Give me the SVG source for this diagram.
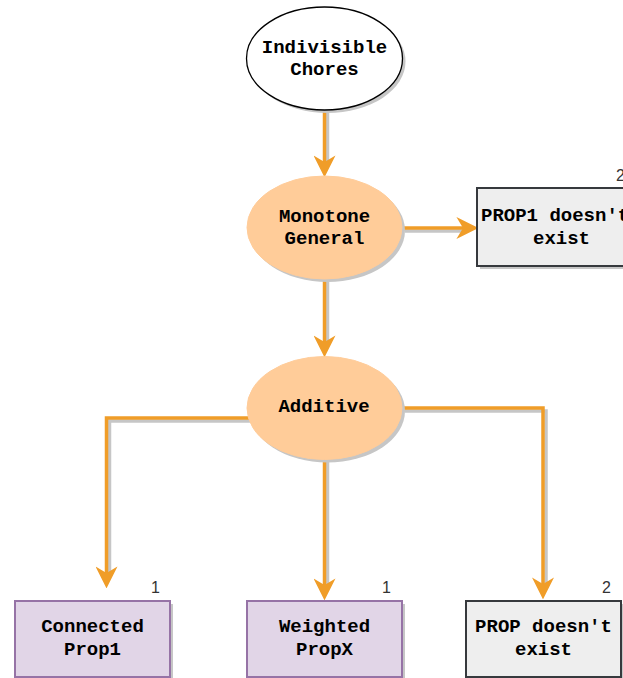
<svg xmlns="http://www.w3.org/2000/svg" width="623" height="678" viewBox="0 0 623 678">
<style>
.t{font-family:"Liberation Mono","Courier New",monospace;font-weight:bold;font-size:19px;fill:#000;text-anchor:middle}
.n{font-family:"Liberation Sans",Arial,sans-serif;font-size:16px;fill:#333}
.sh{fill:#c6c6c6;stroke:none}
.ov{fill:#FFCC99;stroke:#FFCC99;stroke-width:1}
.pu{fill:#E1D5E7;stroke:#9673A6;stroke-width:2}
.gr{fill:#EEEEEE;stroke:#36393D;stroke-width:2}
.c{fill:none;stroke:#F09D28;stroke-width:3.5;marker-end:url(#ah)}
.cs{fill:none;stroke:#c6c6c6;stroke-width:3.5}
</style>
<defs>
<marker id="ah" markerUnits="userSpaceOnUse" markerWidth="22" markerHeight="22" viewBox="0 0 20 20" refX="6" refY="10" orient="auto">
<path d="M0,0 L20,10 L0,20 L6,10 Z" fill="#F09D28"/>
</marker>
</defs>
<rect width="623" height="678" fill="#fff"/>
<g id="connectors">
<path class="cs" d="M327.5,113 V161"/>
<path class="cs" d="M405,231 H462"/>
<path class="cs" d="M327.5,282 V341"/>
<path class="cs" d="M254,421 H109.5 V572"/>
<path class="cs" d="M327.5,462 V584"/>
<path class="cs" d="M405,411 H546 V583"/>
<path class="c" d="M324.5,110 V162"/>
<path class="c" d="M402,228 H463"/>
<path class="c" d="M324.5,279 V342"/>
<path class="c" d="M251,418 H106.5 V573"/>
<path class="c" d="M324.5,459 V585"/>
<path class="c" d="M402,408 H543 V584"/>
</g>
<g id="chores">
<ellipse class="sh" cx="327.5" cy="61.5" rx="78" ry="51.5"/>
<ellipse cx="324.5" cy="58.5" rx="78" ry="51.5" fill="#fff" stroke="#000" stroke-width="1.3"/>
<text class="t" x="324.5" y="53">Indivisible</text>
<text class="t" x="324.5" y="75">Chores</text>
</g>
<g id="monotone">
<ellipse class="sh" cx="327.5" cy="230.5" rx="77.5" ry="51.5"/>
<ellipse class="ov" cx="324.5" cy="227.5" rx="77.5" ry="51.5"/>
<text class="t" x="324.5" y="221.5">Monotone</text>
<text class="t" x="324.5" y="244">General</text>
</g>
<g id="prop1">
<rect class="sh" x="480" y="191" width="156" height="78"/>
<rect class="gr" x="477" y="188" width="156" height="78"/>
<text class="t" x="481" y="221" style="text-anchor:start">PROP1 doesn't</text>
<text class="t" x="561.5" y="243.5">exist</text>
<text class="n" x="616" y="181">2</text>
</g>
<g id="additive">
<ellipse class="sh" cx="327.5" cy="411" rx="77.5" ry="51.5"/>
<ellipse class="ov" cx="324.5" cy="408" rx="77.5" ry="51.5"/>
<text class="t" x="324" y="412">Additive</text>
</g>
<g id="connected">
<rect class="sh" x="18" y="604" width="155" height="76"/>
<rect class="pu" x="15" y="601" width="155" height="76"/>
<text class="t" x="92.5" y="632">Connected</text>
<text class="t" x="92.5" y="655">Prop1</text>
<text class="n" x="160" y="593" text-anchor="end">1</text>
</g>
<g id="weighted">
<rect class="sh" x="250" y="604" width="155" height="76"/>
<rect class="pu" x="247" y="601" width="155" height="76"/>
<text class="t" x="324.5" y="632">Weighted</text>
<text class="t" x="324.5" y="655">PropX</text>
<text class="n" x="391" y="593" text-anchor="end">1</text>
</g>
<g id="propnone">
<rect class="sh" x="469" y="604" width="155" height="76"/>
<rect class="gr" x="466" y="601" width="155" height="76"/>
<text class="t" x="543.5" y="632">PROP doesn't</text>
<text class="t" x="543.5" y="655">exist</text>
<text class="n" x="611" y="593" text-anchor="end">2</text>
</g>
</svg>
